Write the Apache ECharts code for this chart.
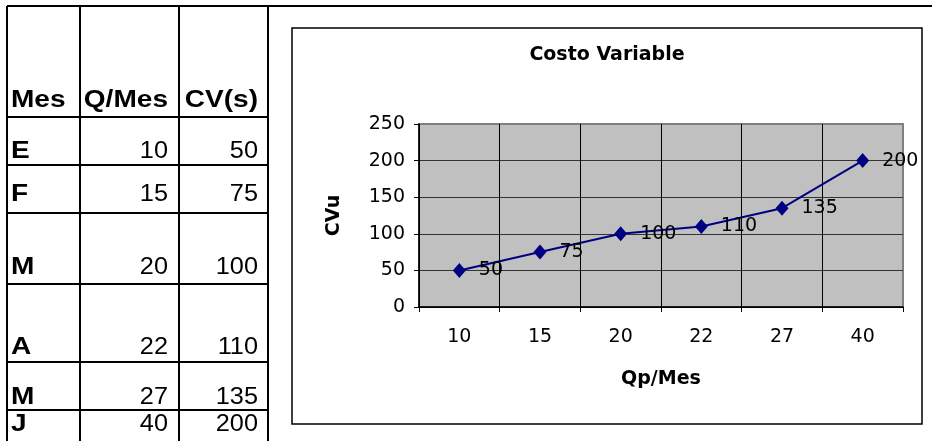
<!DOCTYPE html>
<html>
<head>
<meta charset="utf-8">
<script src="https://cdn.jsdelivr.net/npm/echarts@6/dist/echarts.min.js"></script>
</head>
<body style="margin:0;background:#fff">
<div id="main" style="width:932px;height:441px"></div>
<script>
// datos de la tabla / grafico
var meses = ['E', 'F', 'M', 'A', 'M', 'J'];
var qMes = [10, 15, 20, 22, 27, 40];
var cvs = [50, 75, 100, 110, 135, 200];
var headers = ['Mes', 'Q/Mes', 'CV(s)'];

// geometria de la tabla (tipo hoja de calculo)
var colX = [7, 80, 179, 268];
var rowLines = [117, 165, 213, 284, 362, 410];
var headerY = 101;
var rowY = [152, 195, 268, 348, 398, 425];

var chart = echarts.init(document.getElementById('main'));
var g = [];

function hline(y, x1, x2) {
    g.push({type: 'line', shape: {x1: x1, y1: y, x2: x2, y2: y}, style: {stroke: '#000', lineWidth: 2}, z: 5});
}
function vline(x, y1, y2) {
    g.push({type: 'line', shape: {x1: x, y1: y1, x2: x, y2: y2}, style: {stroke: '#000', lineWidth: 2}, z: 5});
}
function cell(txt, x, y, align, bold) {
    g.push({
        type: 'text', x: x, y: y, scaleX: bold ? 1.22 : 1.1, z: 5,
        style: {
            text: txt, fill: '#000', align: align, verticalAlign: 'middle',
            fontSize: 23, fontWeight: bold ? 'bold' : 'normal',
            fontFamily: 'Liberation Sans'
        }
    });
}

hline(6, colX[0], 932);
colX.forEach(function (x) { vline(x, 6, 441); });
rowLines.forEach(function (y) { hline(y, colX[0], colX[3]); });

cell(headers[0], 11, headerY, 'left', true);
cell(headers[1], 168, headerY, 'right', true);
cell(headers[2], 258, headerY, 'right', true);
for (var i = 0; i < meses.length; i++) {
    cell(meses[i], 11, rowY[i], 'left', true);
    cell(String(qMes[i]), 168, rowY[i], 'right', false);
    cell(String(cvs[i]), 258, rowY[i], 'right', false);
}

// marco del grafico
g.push({type: 'rect', shape: {x: 292, y: 28, width: 630, height: 396}, style: {fill: '#fff', stroke: '#000', lineWidth: 1.5}, z: -10});
g.push({
    type: 'text', x: 607, y: 55, z: 5,
    style: {text: 'Costo Variable', fill: '#000', align: 'center', verticalAlign: 'middle',
        fontSize: 19, fontWeight: 'bold', fontFamily: 'DejaVu Sans'}
});

var font = 'DejaVu Sans';

chart.setOption({
    animation: false,
    graphic: g,
    grid: {
        left: 419, right: 29, top: 124, bottom: 134,
        show: true, backgroundColor: '#c0c0c0', borderColor: '#808080', borderWidth: 2
    },
    xAxis: {
        type: 'category',
        data: qMes.map(String),
        boundaryGap: true,
        axisLine: {lineStyle: {color: '#000', width: 1.5}},
        axisTick: {show: true, length: 5, lineStyle: {color: '#000'}},
        axisLabel: {margin: 21, color: '#000', fontSize: 19, fontFamily: font},
        splitLine: {show: true, lineStyle: {width: 1, color: ['#000', '#000', '#000', '#000', '#000', '#000', '#808080']}},
        name: 'Qp/Mes', nameLocation: 'middle', nameGap: 63,
        nameTextStyle: {color: '#000', fontSize: 19, fontWeight: 'bold', fontFamily: font}
    },
    yAxis: {
        type: 'value', min: 0, max: 250, interval: 50,
        axisLine: {show: true, lineStyle: {color: '#000', width: 1.5}},
        axisTick: {show: true, length: 5, lineStyle: {color: '#000'}},
        axisLabel: {margin: 14, color: '#000', fontSize: 19, fontFamily: font},
        splitLine: {show: true, lineStyle: {width: 1, color: ['#000', '#333', '#333', '#333', '#333', '#808080']}},
        name: 'CVu', nameLocation: 'middle', nameGap: 75,
        nameTextStyle: {color: '#000', fontSize: 19, fontWeight: 'bold', fontFamily: font}
    },
    series: [{
        type: 'line',
        data: cvs,
        symbol: 'diamond',
        symbolSize: [13, 15],
        itemStyle: {color: '#000080'},
        lineStyle: {color: '#000080', width: 2},
        label: {show: true, position: 'right', distance: 13, color: '#000', fontSize: 19, fontFamily: font}
    }]
});
</script>
</body>
</html>
